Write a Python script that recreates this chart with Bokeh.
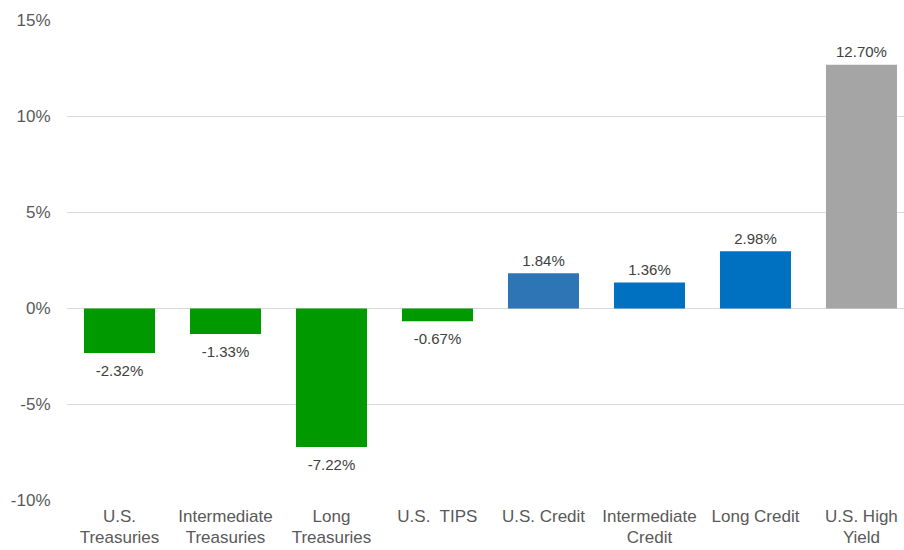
from bokeh.plotting import figure
from bokeh.models import ColumnDataSource, Range1d, FixedTicker, PrintfTickFormatter
from bokeh.embed import file_html
from bokeh.resources import INLINE
from bokeh.core.properties import value

categories = ["U.S.\nTreasuries", "Intermediate\nTreasuries", "Long\nTreasuries", "U.S.\u00a0 TIPS",
              "U.S. Credit", "Intermediate\nCredit", "Long Credit", "U.S. High\nYield"]
returns = [-2.32, -1.33, -7.22, -0.67, 1.84, 1.36, 2.98, 12.70]
colors = ["#009900", "#009900", "#009900", "#009900", "#2E75B6", "#0070C0", "#0070C0", "#A5A5A5"]
y_ticks = [-10, -5, 0, 5, 10, 15]

FONT = "Liberation Sans"
xs = list(range(len(categories)))
labels = ["%.2f%%" % v for v in returns]

src = ColumnDataSource(dict(x=xs, top=returns, color=colors, label=labels))
pos = ColumnDataSource(dict(x=[x for x, v in zip(xs, returns) if v >= 0],
                            y=[v for v in returns if v >= 0],
                            label=[l for l, v in zip(labels, returns) if v >= 0]))
neg = ColumnDataSource(dict(x=[x for x, v in zip(xs, returns) if v < 0],
                            y=[v for v in returns if v < 0],
                            label=[l for l, v in zip(labels, returns) if v < 0]))

p = figure(width=904, height=550, output_backend="svg", toolbar_location=None,
           x_range=Range1d(-0.5, 7.406), y_range=Range1d(-10, 15),
           min_border_left=66, min_border_right=0, min_border_top=20, min_border_bottom=50)
p.outline_line_color = None
p.background_fill_color = "white"

p.vbar(x="x", top="top", bottom=0, width=0.67, color="color", line_color=None, source=src)

p.text(x="x", y="y", text="label", source=pos, text_align="center", text_baseline="alphabetic",
       y_offset=-13, text_font=value(FONT), text_font_size="15px", text_color="#404040")
p.text(x="x", y="y", text="label", source=neg, text_align="center", text_baseline="top",
       y_offset=9, text_font=value(FONT), text_font_size="15px", text_color="#404040")

p.xgrid.grid_line_color = None
p.ygrid.grid_line_color = "#D9D9D9"
p.ygrid.ticker = FixedTicker(ticks=y_ticks)

p.yaxis.ticker = FixedTicker(ticks=y_ticks)
p.yaxis.formatter = PrintfTickFormatter(format="%d%%")
p.xaxis.ticker = FixedTicker(ticks=xs)
p.xaxis.major_label_overrides = {i: c for i, c in enumerate(categories)}

for ax in (p.xaxis, p.yaxis):
    ax.axis_line_color = None
    ax.major_tick_line_color = None
    ax.minor_tick_line_color = None
    ax.major_tick_out = 0
    ax.major_tick_in = 0
    ax.major_label_text_font = FONT
    ax.major_label_text_font_size = "17px"
    ax.major_label_text_color = "#595959"
p.yaxis.major_label_standoff = 16
p.xaxis.major_label_standoff = 6
p.xaxis.major_label_text_line_height = 1.15

open("out.html", "w").write(file_html(p, INLINE))
